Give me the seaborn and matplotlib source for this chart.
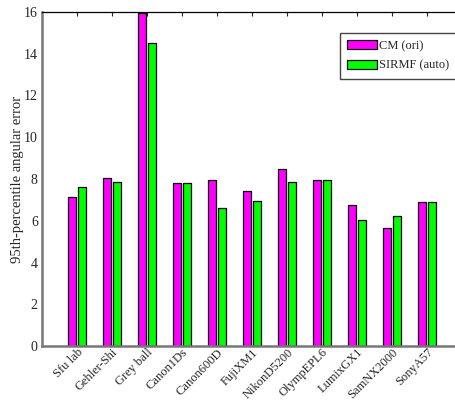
import numpy as np
import pandas as pd
import matplotlib
matplotlib.use('Agg')
import matplotlib.pyplot as plt
import seaborn as sns

# 数据
datasets = ['Sfu lab', 'Gehler-Shi', 'Grey ball', 'Canon1Ds', 'Canon600D',
            'FujiXM1', 'NikonD5200', 'OlympEPL6', 'LumixGX1', 'SamNX2000', 'SonyA57']
cm_ori = [7.15, 8.03, 15.94, 7.82, 7.93, 7.43, 8.46, 7.93, 6.75, 5.65, 6.88]
sirmf_auto = [7.6, 7.84, 14.5, 7.82, 6.6, 6.97, 7.84, 7.97, 6.04, 6.22, 6.88]
methods = ['CM (ori)', 'SIRMF (auto)']
colors = ['#FF00FF', '#00FF00']

df = pd.DataFrame({
    'dataset': datasets * 2,
    'value': cm_ori + sirmf_auto,
    'method': [methods[0]] * len(datasets) + [methods[1]] * len(datasets),
})

sns.set_style('white')
plt.rcParams['font.family'] = ['Liberation Serif', 'DejaVu Serif']
plt.rcParams['font.size'] = 10

fig = plt.figure(figsize=(4.56, 4.0), dpi=100)
ax = fig.add_axes([42 / 456, 54 / 400, 420 / 456, 334 / 400])

sns.barplot(data=df, x='dataset', y='value', hue='method', palette=colors,
            saturation=1, width=0.56, gap=0.12, edgecolor='black',
            linewidth=0.9, ax=ax)

ax.set_xlim(-1, 11)
ax.set_ylim(0, 16)
ax.set_yticks(np.arange(0, 17, 2))
ax.set_xlabel('')
ax.set_ylabel('95th-percentile angular error', fontsize=10.5)
ax.yaxis.set_label_coords(-0.043, 0.5)
ax.set_xticks(range(len(datasets)))
ax.set_xticklabels(datasets, rotation=45, ha='right', va='top',
                   rotation_mode='anchor', fontsize=9)

ax.tick_params(axis='both', direction='in', length=3, width=0.8,
               top=True, right=True, pad=3)
ax.tick_params(axis='y', labelsize=10)
ax.tick_params(axis='x', pad=0.3)
for side in ['left', 'bottom']:
    ax.spines[side].set_color('#777777')
    ax.spines[side].set_linewidth(1.8)
for side in ['top', 'right']:
    ax.spines[side].set_color('black')
    ax.spines[side].set_linewidth(0.9)

leg = ax.legend(loc='upper left', bbox_to_anchor=(340 / 456, 1 - 33 / 400),
                bbox_transform=fig.transFigure, fontsize=9, frameon=True,
                fancybox=False, framealpha=1, edgecolor='#444444',
                handlelength=2.45, handleheight=0.7, handletextpad=0.15,
                borderpad=0.55, labelspacing=0.62, borderaxespad=0)
leg.set_title(None)

fig.savefig('out.png', dpi=100)
